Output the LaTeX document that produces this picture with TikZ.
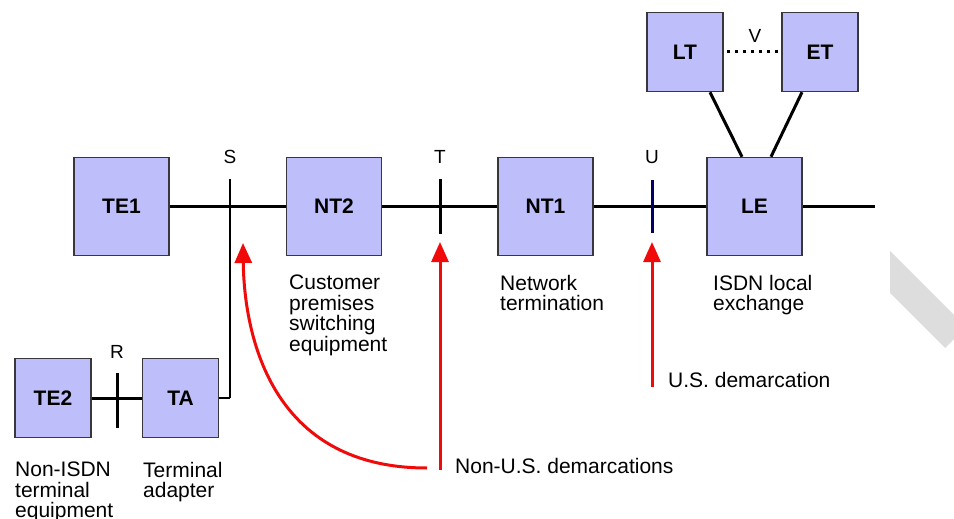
\documentclass[tikz,border=0pt]{standalone}
\usepackage{fontspec}
\setmainfont{Liberation Sans}
\usetikzlibrary{arrows.meta,positioning}

\definecolor{boxfill}{RGB}{190,190,250}
\definecolor{boxline}{RGB}{55,55,60}
\definecolor{demred}{RGB}{240,10,10}
\definecolor{stripe}{RGB}{221,221,221}

\begin{document}
\begin{tikzpicture}[x=1pt,y=-1pt,
  box/.style={draw=boxline,fill=boxfill,line width=1.5pt,inner sep=0pt,
    minimum width=95pt,minimum height=98pt,font=\fontsize{21}{24}\selectfont\bfseries},
  smallbox/.style={box,minimum width=76pt,minimum height=79pt},
  wire/.style={line width=3pt},
  refpt/.style={inner sep=0pt,anchor=base,font=\fontsize{19}{22}\selectfont},
  caption/.style={inner sep=0pt,anchor=north west,align=left,
    font=\fontsize{21}{20.4}\selectfont},
  demarc/.style={draw=demred,line width=3pt,-{Triangle[length=20pt,width=17pt]}}]
  \useasboundingbox (0,0) rectangle (954,519);
  \fill[stripe] (890,251) -- (954,315) -- (954,339) -- (945,348) -- (890,293) -- cycle;

  % boxes
  \path
  node[box] (TE1) at (121.5,206.5) {TE1}
  node[box] (NT2) at (334,206.5)   {NT2}
  node[box] (NT1) at (545.5,206.5) {NT1}
  node[box] (LE)  at (754.5,206.5) {LE}
  node[smallbox] (LT) at (685,52)  {LT}
  node[smallbox] (ET) at (820,52)  {ET}
  node[smallbox] (TE2) at (53,398) {TE2}
  node[smallbox] (TA)  at (180.5,398) {TA}
  ;

  % reference points
  \coordinate (Stop) at (230,179);
  \coordinate (Ttop) at (440,179);
  \coordinate (Tbot) at (440,234);
  \coordinate (Utop) at (652,180);
  \coordinate (Ubot) at (652,233);
  \coordinate (Rtop) at (117,373);
  \coordinate (Rbot) at (117,428);
  \coordinate (lineend) at (875,206.5);
  \path
  node[refpt] (S) at (230,163) {S}
  node[refpt] (T) at (440,163) {T}
  node[refpt] (U) at (652,163) {U}
  node[refpt] (R) at (117,358) {R}
  node[refpt] (V) at (755,43)  {V}
  ;

  \path[wire]
  (TE1) edge (NT2)
  (NT2) edge (NT1)
  (NT1) edge (LE)
  (LE) edge (lineend)
  (TE2) edge (TA)
  (Stop) edge[line width=2.5pt] (Stop |- TA.east)
  (Ttop) edge (Tbot)
  (Utop) edge[draw=black!60!blue] (Ubot)
  (Rtop) edge (Rbot)
  ([xshift=25pt]LT.south) edge ([xshift=-12.5pt]LE.north)
  ([xshift=-18pt]ET.south) edge ([xshift=16.5pt]LE.north)
  ;
  \draw[wire,line width=2.5pt] (Stop |- TA.east) -- (TA.east);
  \draw[line width=3pt,dash pattern=on 3pt off 5pt] ([xshift=3pt]LT.east) -- ([xshift=-3pt]ET.east -| ET.west);

  % captions
  \path
  node[caption] (cpse) at (289,275) {Customer\\premises\\switching\\equipment}
  node[caption] (nt)   at (500,275) {Network\\termination}
  node[caption] (isdn) at (713,275) {ISDN local\\exchange}
  node[caption] (nonisdn) at (15,462) {Non-ISDN\\terminal\\equipment}
  node[caption] (tad)  at (143,462) {Terminal\\adapter}
  node[caption] (us)   at (668,372) {U.S. demarcation}
  node[caption] (nonus) at (455,458) {Non-U.S. demarcations}
  ;

  % demarcation arrows
  \coordinate (Tfoot) at (440,470);
  \coordinate (Ufoot) at (652,387);
  \coordinate (Cfoot) at (427,468);
  \draw[demarc] (Tfoot) -- (440,242);
  \draw[demarc] (Ufoot) -- (652,242);
  \draw[demarc] (Cfoot) .. controls (262,468) and (244,320) .. (243,243);
\end{tikzpicture}
\end{document}
